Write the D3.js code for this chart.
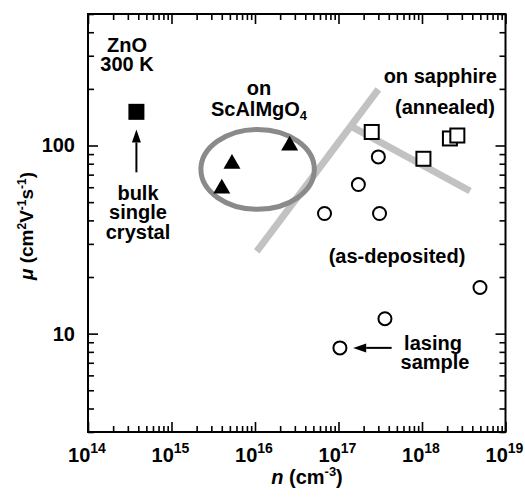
<!DOCTYPE html>
<html>
<head>
<meta charset="utf-8">
<script src="https://cdn.jsdelivr.net/npm/d3@7"></script>
<style>
  html, body { margin: 0; padding: 0; background: #fff; }
  svg text { font-family: "Liberation Sans", Arial, Helvetica, sans-serif; font-weight: bold; fill: #000; }
</style>
</head>
<body>
<svg id="chart" width="525" height="504"></svg>
<script>
// ---- data (n in cm^-3, mu in cm^2/Vs) ----
const bulkN = [3.8e14];
const bulkMu = [151];

const scalN = [5.3e15, 4.0e15, 2.6e16];
const scalMu = [80, 59, 100];

const annealedN = [2.5e17, 1.04e18, 2.16e18, 2.65e18];
const annealedMu = [118, 85, 109, 113];

const depositedN = [3.0e17, 1.73e17, 6.8e16, 3.1e17, 4.95e18, 3.6e17, 1.04e17];
const depositedMu = [87, 62, 43.5, 43.5, 17.6, 12.0, 8.4];

// guide lines (gray)
const guideLineN = [[1.05e16, 3.0e17], [1.44e17, 3.76e18]];
const guideLineMu = [[27.4, 199], [126, 57.3]];

// ellipse bounds around ScAlMgO4 points
const ellipseN = [2.1e15, 5.5e16];
const ellipseMu = [44.4, 125.6];

// arrows: [tailN, tipN], [tailMu, tipMu]
const arrowN = [[3.8e14, 3.8e14], [4.33e17, 1.5e17]];
const arrowMu = [[72, 121.6], [8.4, 8.4]];

const xMajor = [1e14, 1e15, 1e16, 1e17, 1e18, 1e19];
const xExp = ["14", "15", "16", "17", "18", "19"];
const yMajor = [10, 100];
const yLabels = ["10", "100"];

// ---- drawing ----
const svg = d3.select("#chart");
const L = 88, R = 505.5, T = 14, B = 432;
const x = d3.scaleLog().domain([1e14, 1e19]).range([L, R]);
const y = d3.scaleLog().domain([3, 500]).range([B, T]);

const xMinor = [];
for (let e = 14; e < 19; e++) for (let k = 2; k <= 9; k++) xMinor.push(k * Math.pow(10, e));
const yMinor = [];
for (let e = 0; e < 3; e++) for (let k = 1; k <= 9; k++) {
  const v = k * Math.pow(10, e);
  if (v >= 3 && v <= 500 && v !== 10 && v !== 100) yMinor.push(v);
}

function styleAxis(g) {
  g.select(".domain").remove();
  g.selectAll("line").attr("stroke", "#000").attr("stroke-width", 1.6);
  g.selectAll("text").remove();
}
// bottom
svg.append("g").attr("transform", `translate(0,${B})`)
  .call(d3.axisBottom(x).tickValues(xMajor).tickSize(-10).tickFormat("")).call(styleAxis);
svg.append("g").attr("transform", `translate(0,${B})`)
  .call(d3.axisBottom(x).tickValues(xMinor).tickSize(-6).tickFormat("")).call(styleAxis);
// top
svg.append("g").attr("transform", `translate(0,${T})`)
  .call(d3.axisTop(x).tickValues(xMajor).tickSize(-10).tickFormat("")).call(styleAxis);
svg.append("g").attr("transform", `translate(0,${T})`)
  .call(d3.axisTop(x).tickValues(xMinor).tickSize(-6).tickFormat("")).call(styleAxis);
// left
svg.append("g").attr("transform", `translate(${L},0)`)
  .call(d3.axisLeft(y).tickValues(yMajor).tickSize(-10).tickFormat("")).call(styleAxis);
svg.append("g").attr("transform", `translate(${L},0)`)
  .call(d3.axisLeft(y).tickValues(yMinor).tickSize(-6).tickFormat("")).call(styleAxis);
// right
svg.append("g").attr("transform", `translate(${R},0)`)
  .call(d3.axisRight(y).tickValues(yMajor).tickSize(-10).tickFormat("")).call(styleAxis);
svg.append("g").attr("transform", `translate(${R},0)`)
  .call(d3.axisRight(y).tickValues(yMinor).tickSize(-6).tickFormat("")).call(styleAxis);

// frame
svg.append("rect").attr("x", L).attr("y", T).attr("width", R - L).attr("height", B - T)
  .attr("fill", "none").attr("stroke", "#000").attr("stroke-width", 2);

// x tick labels
xMajor.forEach((v, i) => {
  const t = svg.append("text").attr("x", x(v) - 1).attr("y", 462).attr("text-anchor", "middle")
    .style("font-size", "20px");
  t.append("tspan").text("10");
  t.append("tspan").attr("dy", -9).style("font-size", "14px").text(xExp[i]);
});
// y tick labels
yMajor.forEach((v, i) => {
  svg.append("text").attr("x", 75).attr("y", y(v) + 7).attr("text-anchor", "end")
    .style("font-size", "20px").text(yLabels[i]);
});

// x axis title
const xt = svg.append("text").attr("x", 307).attr("y", 484).attr("text-anchor", "middle").style("font-size", "20px");
xt.append("tspan").style("font-style", "italic").text("n");
xt.append("tspan").text(" (cm");
xt.append("tspan").attr("dy", -8).style("font-size", "13px").text("-3");
xt.append("tspan").attr("dy", 8).text(")");

// y axis title
const yt = svg.append("text").attr("transform", "translate(33,226) rotate(-90)")
  .attr("text-anchor", "middle").style("font-size", "19px");
yt.append("tspan").style("font-style", "italic").text("μ");
yt.append("tspan").text(" (cm");
yt.append("tspan").attr("dy", -7).style("font-size", "12px").text("2");
yt.append("tspan").attr("dy", 7).text("V");
yt.append("tspan").attr("dy", -7).style("font-size", "12px").text("-1");
yt.append("tspan").attr("dy", 7).text("s");
yt.append("tspan").attr("dy", -7).style("font-size", "12px").text("-1");
yt.append("tspan").attr("dy", 7).text(")");

// guide lines
guideLineN.forEach((ns, i) => {
  svg.append("line")
    .attr("x1", x(ns[0])).attr("y1", y(guideLineMu[i][0]))
    .attr("x2", x(ns[1])).attr("y2", y(guideLineMu[i][1]))
    .attr("stroke", "#c2c2c2").attr("stroke-width", 7);
});

// ellipse
const ex0 = x(ellipseN[0]), ex1 = x(ellipseN[1]);
const ey0 = y(ellipseMu[1]), ey1 = y(ellipseMu[0]);
svg.append("ellipse")
  .attr("cx", (ex0 + ex1) / 2).attr("cy", (ey0 + ey1) / 2)
  .attr("rx", (ex1 - ex0) / 2 - 2.5).attr("ry", (ey1 - ey0) / 2 - 2.5)
  .attr("fill", "none").attr("stroke", "#8a8a8a").attr("stroke-width", 5);

// bulk square (filled)
svg.selectAll(".bulk").data(bulkN).enter().append("rect")
  .attr("x", (d) => x(d) - 8).attr("y", (d, i) => y(bulkMu[i]) - 8)
  .attr("width", 16).attr("height", 16).attr("fill", "#000");

// triangles
const tri = d3.symbol().type(d3.symbolTriangle).size(125);
svg.selectAll(".tri").data(scalN).enter().append("path")
  .attr("d", tri)
  .attr("transform", (d, i) => `translate(${x(d)},${y(scalMu[i])})`)
  .attr("fill", "#000");

// annealed squares (open)
svg.selectAll(".sq").data(annealedN).enter().append("rect")
  .attr("x", (d) => x(d) - 7).attr("y", (d, i) => y(annealedMu[i]) - 7)
  .attr("width", 14).attr("height", 14)
  .attr("fill", "#fff").attr("stroke", "#000").attr("stroke-width", 2);

// as-deposited circles
svg.selectAll(".circ").data(depositedN).enter().append("circle")
  .attr("cx", (d) => x(d)).attr("cy", (d, i) => y(depositedMu[i]))
  .attr("r", 6.5).attr("fill", "#fff").attr("stroke", "#000").attr("stroke-width", 2);

// arrows
arrowN.forEach((ns, i) => {
  const x1 = x(ns[0]), y1 = y(arrowMu[i][0]);
  const x2 = x(ns[1]), y2 = y(arrowMu[i][1]);
  const ang = Math.atan2(y2 - y1, x2 - x1);
  const hl = 13, hw = 4.5;
  const bx = x2 - hl * Math.cos(ang), by = y2 - hl * Math.sin(ang);
  svg.append("line").attr("x1", x1).attr("y1", y1).attr("x2", bx).attr("y2", by)
    .attr("stroke", "#000").attr("stroke-width", 2);
  const px = -Math.sin(ang) * hw, py = Math.cos(ang) * hw;
  svg.append("path")
    .attr("d", `M${x2},${y2}L${bx + px},${by + py}L${bx - px},${by - py}Z`)
    .attr("fill", "#000");
});

// annotations
function label(txt, px, py, anchor) {
  return svg.append("text").attr("x", px).attr("y", py).attr("text-anchor", anchor || "middle")
    .style("font-size", "20px").text(txt);
}
label("ZnO", 127, 52);
label("300 K", 127, 71);
label("bulk", 138, 200);
label("single", 138, 219);
label("crystal", 138, 239);
label("on", 259, 95);
const sc = svg.append("text").attr("x", 259).attr("y", 116).attr("text-anchor", "middle").style("font-size", "20px");
sc.append("tspan").text("ScAlMgO");
sc.append("tspan").attr("dy", 4).style("font-size", "13px").text("4");
label("on sapphire", 497, 83, "end");
label("(annealed)", 495, 114, "end");
label("(as-deposited)", 397, 263);
label("lasing", 433, 350);
label("sample", 435, 369);
</script>
</body>
</html>
